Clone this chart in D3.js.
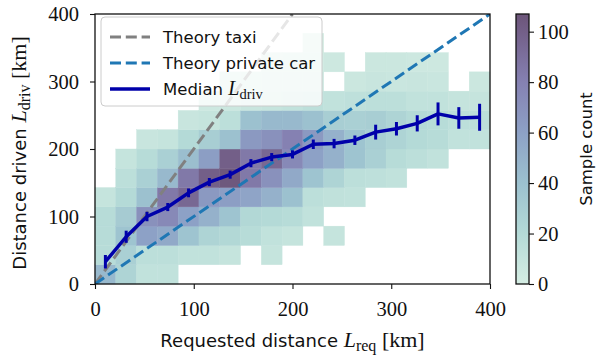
<!DOCTYPE html>
<html>
<head>
<meta charset="utf-8">
<script src="https://cdn.jsdelivr.net/npm/d3@7"></script>
<style>
  body { margin: 0; background: #fff; }
  .tick text { font-family: "Liberation Serif", serif; font-size: 20.5px; fill: #111; }
  .tick line { stroke: #111; stroke-width: 1.1; }
</style>
</head>
<body>
<div id="chart"></div>
<script>
// Histogram of requested vs driven distance
const xMax = 400, yMax = 400;
const nBinsX = 19, nBinsY = 14;

// sample counts, one row per driven-distance bin (bottom row first), one value per requested-distance bin
const sampleCounts = [
  [45, 25, 12, 12, 0, 0, 0, 0, 0, 0, 0, 0, 0, 0, 0, 0, 0, 0, 0],
  [18, 28, 15, 15, 12, 12, 10, 0, 10, 0, 0, 0, 0, 0, 0, 0, 0, 0, 0],
  [18, 38, 60, 55, 38, 25, 22, 18, 12, 10, 0, 10, 0, 0, 0, 0, 0, 0, 0],
  [18, 32, 70, 75, 60, 50, 38, 22, 20, 18, 12, 0, 0, 0, 0, 0, 0, 0, 0],
  [10, 20, 40, 85, 95, 65, 62, 58, 50, 40, 15, 13, 12, 0, 0, 0, 0, 0, 0],
  [0, 15, 28, 45, 85, 100, 105, 85, 70, 55, 38, 25, 15, 14, 12, 0, 0, 0, 0],
  [0, 10, 18, 28, 42, 62, 100, 85, 95, 75, 60, 50, 38, 28, 18, 15, 12, 0, 0],
  [0, 0, 8, 10, 20, 30, 40, 65, 70, 80, 65, 50, 38, 30, 25, 20, 18, 12, 12],
  [0, 0, 0, 0, 8, 10, 15, 40, 45, 45, 40, 30, 28, 30, 25, 20, 18, 15, 15],
  [0, 0, 0, 0, 0, 5, 6, 8, 10, 12, 15, 12, 14, 15, 15, 12, 12, 10, 10],
  [0, 0, 0, 0, 0, 0, 4, 5, 6, 6, 6, 0, 6, 8, 7, 8, 7, 0, 6],
  [0, 0, 0, 0, 0, 0, 0, 0, 3, 4, 4, 5, 0, 6, 6, 5, 5, 0, 0],
  [0, 0, 0, 0, 0, 0, 0, 0, 0, 0, 3, 0, 0, 0, 0, 0, 0, 0, 0],
  [0, 0, 0, 0, 0, 0, 0, 0, 0, 0, 0, 0, 0, 0, 0, 0, 0, 0, 0]
];

// median driven distance per requested-distance bin, with error bar half-widths
const medianDriven = [33, 70, 100, 114, 135, 151, 162, 179, 188, 192, 207, 208, 213, 225, 230, 238, 252, 246, 247];
const medianErr = [10, 9, 7, 6, 6.5, 6, 6, 6, 6, 6, 7, 7, 7, 11, 10, 12, 17, 16, 20];

const axisTicks = [0, 100, 200, 300, 400];
const countTicks = [0, 20, 40, 60, 80, 100];
const countMax = 107;
const colorStops = [0, 20, 40, 60, 80, 100, 107];
const colorValues = ["#d5ede3", "#b4dad7", "#9cc1cf", "#8da1c6", "#8581b2", "#735f88", "#6c5579"];

const W = 608, H = 356;
const plot = { left: 95, right: 490, top: 14, bottom: 284 };

const svg = d3.select("#chart").append("svg")
  .attr("width", W).attr("height", H)
  .style("font-family", "'DejaVu Sans', sans-serif");

const x = d3.scaleLinear().domain([0, xMax]).range([plot.left, plot.right]);
const y = d3.scaleLinear().domain([0, yMax]).range([plot.bottom, plot.top]);
const color = d3.scaleLinear().domain(colorStops).range(colorValues).interpolate(d3.interpolateRgb);

const binW = xMax / nBinsX, binH = yMax / nBinsY;

svg.append("defs").append("clipPath").attr("id", "clip")
  .append("rect")
  .attr("x", plot.left).attr("y", plot.top)
  .attr("width", plot.right - plot.left).attr("height", plot.bottom - plot.top);

// cells
const cells = [];
sampleCounts.forEach((row, j) => row.forEach((c, i) => { if (c > 0) cells.push({ i, j, c }); }));

svg.append("g").selectAll("rect")
  .data(cells)
  .join("rect")
  .attr("x", d => x(d.i * binW))
  .attr("y", d => y((d.j + 1) * binH))
  .attr("width", d => x((d.i + 1) * binW) - x(d.i * binW))
  .attr("height", d => y(d.j * binH) - y((d.j + 1) * binH))
  .attr("fill", d => color(d.c))
  .attr("stroke", d => color(d.c))
  .attr("stroke-width", 0.4);

const lines = svg.append("g").attr("clip-path", "url(#clip)");
const line = d3.line().x(d => x(d[0])).y(d => y(d[1]));

// theory lines
lines.append("path")
  .attr("d", line([[0, 0], [yMax / 2, yMax]]))
  .attr("fill", "none").attr("stroke", "#808080")
  .attr("stroke-width", 3).attr("stroke-dasharray", "11,4.8");

lines.append("path")
  .attr("d", line([[0, 0], [xMax, yMax]]))
  .attr("fill", "none").attr("stroke", "#1f77b4")
  .attr("stroke-width", 3).attr("stroke-dasharray", "11,4.8");

// median with error bars
const medPts = medianDriven.map((m, i) => [(i + 0.5) * binW, m, medianErr[i]]);
lines.append("path")
  .attr("d", line(medPts))
  .attr("fill", "none").attr("stroke", "#0000aa")
  .attr("stroke-width", 3.5).attr("stroke-linejoin", "round");

lines.append("g").selectAll("line")
  .data(medPts)
  .join("line")
  .attr("x1", d => x(d[0])).attr("x2", d => x(d[0]))
  .attr("y1", d => y(d[1] - d[2])).attr("y2", d => y(d[1] + d[2]))
  .attr("stroke", "#0000aa").attr("stroke-width", 3);

// axes
const xAxis = svg.append("g")
  .attr("transform", `translate(0,${plot.bottom})`)
  .call(d3.axisBottom(x).tickValues(axisTicks).tickSize(5).tickPadding(12));
const yAxis = svg.append("g")
  .attr("transform", `translate(${plot.left},0)`)
  .call(d3.axisLeft(y).tickValues(axisTicks).tickSize(5).tickPadding(11));
xAxis.select(".domain").remove();
yAxis.select(".domain").remove();

svg.append("rect")
  .attr("x", plot.left).attr("y", plot.top)
  .attr("width", plot.right - plot.left).attr("height", plot.bottom - plot.top)
  .attr("fill", "none").attr("stroke", "#111").attr("stroke-width", 1.3);

// axis labels with math parts
function mathLabel(g, text, sub) {
  const t = g.append("text").attr("text-anchor", "middle").style("font-size", "18px").attr("fill", "#111");
  t.append("tspan").text(text + " ");
  t.append("tspan").text("L").style("font-family", "'Liberation Serif', serif").style("font-style", "italic").style("font-size", "22px");
  t.append("tspan").text(sub).style("font-family", "'Liberation Serif', serif").style("font-size", "16px").attr("dy", 4);
  t.append("tspan").text(" [km]").style("font-family", "'Liberation Serif', serif").style("font-size", "22px").attr("dy", -4);
  return t;
}

mathLabel(svg.append("g").attr("transform", `translate(${(plot.left + plot.right) / 2},347)`), "Requested distance", "req");
mathLabel(svg.append("g").attr("transform", `translate(26,${(plot.top + plot.bottom) / 2 + 4}) rotate(-90)`), "Distance driven", "driv");

// legend
const lg = svg.append("g").attr("transform", "translate(101,17)");
lg.append("rect")
  .attr("width", 221).attr("height", 89).attr("rx", 4)
  .attr("fill", "rgba(255,255,255,0.8)").attr("stroke", "#cccccc").attr("stroke-width", 1);

const legendItems = [
  { label: "Theory taxi", color: "#808080", dash: "11,4.8", w: 3 },
  { label: "Theory private car", color: "#1f77b4", dash: "11,4.8", w: 3 },
  { label: "Median", color: "#0000aa", dash: null, w: 3.5 }
];
legendItems.forEach((d, k) => {
  const yy = 20 + k * 26;
  lg.append("line")
    .attr("x1", 9).attr("x2", 49).attr("y1", yy).attr("y2", yy)
    .attr("stroke", d.color).attr("stroke-width", d.w)
    .attr("stroke-dasharray", d.dash);
  const t = lg.append("text").attr("x", 62).attr("y", yy + 6)
    .style("font-size", "16.5px").attr("fill", "#111").text(d.label);
  if (k === 2) {
    t.append("tspan").text(" ");
    t.append("tspan").text("L").style("font-family", "'Liberation Serif', serif").style("font-style", "italic").style("font-size", "20px");
    t.append("tspan").text("driv").style("font-family", "'Liberation Serif', serif").style("font-size", "14.5px").attr("dy", 4);
  }
});

// colorbar
const cb = { x: 516, w: 13 };
const cy = d3.scaleLinear().domain([0, countMax]).range([plot.bottom, plot.top]);
const grad = svg.select("defs").append("linearGradient")
  .attr("id", "cbgrad").attr("x1", 0).attr("x2", 0).attr("y1", 1).attr("y2", 0);
grad.selectAll("stop")
  .data(colorStops)
  .join("stop")
  .attr("offset", d => d / countMax)
  .attr("stop-color", d => color(d));

svg.append("rect")
  .attr("x", cb.x).attr("y", plot.top)
  .attr("width", cb.w).attr("height", plot.bottom - plot.top)
  .attr("fill", "url(#cbgrad)").attr("stroke", "#111").attr("stroke-width", 1.3);

const cAxis = svg.append("g")
  .attr("transform", `translate(${cb.x + cb.w},0)`)
  .call(d3.axisRight(cy).tickValues(countTicks).tickSize(5).tickPadding(4));
cAxis.select(".domain").remove();

svg.append("text")
  .attr("transform", `translate(592,${(plot.top + plot.bottom) / 2}) rotate(-90)`)
  .attr("text-anchor", "middle").style("font-size", "16.5px").attr("fill", "#111")
  .text("Sample count");
</script>
</body>
</html>
